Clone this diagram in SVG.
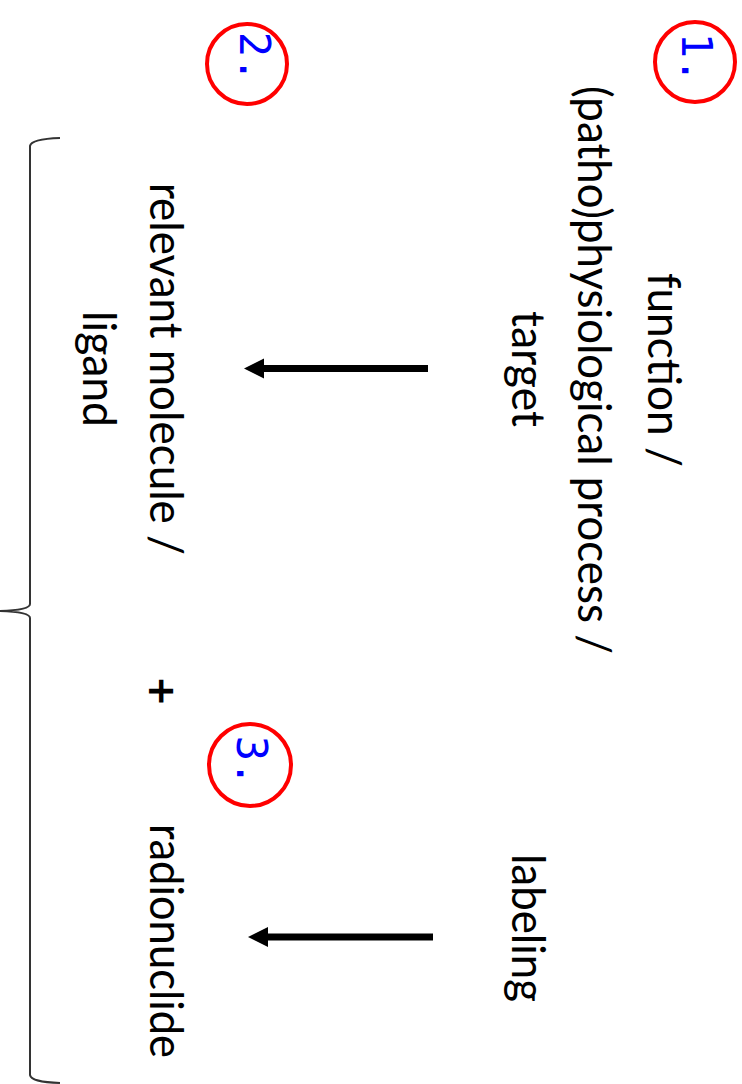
<svg xmlns="http://www.w3.org/2000/svg" width="742" height="1084" viewBox="0 0 742 1084">
  <style>
    .lbl { font-family: Lato, "Open Sans", "Liberation Sans", sans-serif; font-size: 47px; fill: #000; text-anchor: middle; }
    .num { font-family: "DejaVu Sans Mono", "Liberation Mono", monospace; font-size: 42px; fill: #0000ff; text-anchor: middle; }
    .ring { fill: none; stroke: #ff0000; stroke-width: 4; }
    .arrow { fill: none; stroke: #000; stroke-width: 7; marker-end: url(#head); }
    .brace { fill: none; stroke: #333; stroke-width: 2; }
  </style>
  <defs>
    <marker id="head" markerUnits="userSpaceOnUse" markerWidth="22" markerHeight="22" refX="2" refY="11" orient="auto" viewBox="0 0 22 22">
      <polygon points="0,1 20,11 0,21" fill="#000"/>
    </marker>
  </defs>
  <rect width="742" height="1084" fill="#fff"/>

  <!-- step markers -->
  <g id="step1">
    <circle class="ring" cx="695" cy="62" r="40"/>
    <text class="num" transform="translate(682,58) rotate(90)">1.</text>
  </g>
  <g id="step2">
    <circle class="ring" cx="247" cy="64" r="40"/>
    <text class="num" transform="translate(240,57) rotate(90)">2.</text>
  </g>
  <g id="step3">
    <circle class="ring" cx="250" cy="765" r="41"/>
    <text class="num" transform="translate(237,761) rotate(90)">3.</text>
  </g>

  <!-- targets -->
  <g id="target">
    <text class="lbl" transform="translate(648,370) rotate(90)" textLength="194" lengthAdjust="spacingAndGlyphs">function /</text>
    <text class="lbl" transform="translate(578,370) rotate(90)" textLength="568" lengthAdjust="spacingAndGlyphs">(patho)physiological process /</text>
    <text class="lbl" transform="translate(512,369) rotate(90)" textLength="116" lengthAdjust="spacingAndGlyphs">target</text>
  </g>
  <g id="ligand">
    <text class="lbl" transform="translate(150,369) rotate(90)" textLength="372" lengthAdjust="spacingAndGlyphs">relevant molecule /</text>
    <text class="lbl" transform="translate(83,369) rotate(90)" textLength="116" lengthAdjust="spacingAndGlyphs">ligand</text>
  </g>
  <g id="plus">
    <text class="lbl" style="font-weight:bold" transform="translate(145,691) rotate(90)">+</text>
  </g>
  <g id="labeling">
    <text class="lbl" transform="translate(512,928) rotate(90)" textLength="148" lengthAdjust="spacingAndGlyphs">labeling</text>
  </g>
  <g id="radionuclide">
    <text class="lbl" transform="translate(150,941) rotate(90)" textLength="234" lengthAdjust="spacingAndGlyphs">radionuclide</text>
  </g>

  <!-- connectors -->
  <g id="connectors">
    <line class="arrow" x1="428" y1="368.5" x2="262" y2="368.5"/>
    <line class="arrow" x1="433" y1="937" x2="266" y2="937"/>
    <path class="brace" d="M60,138 Q31,139 30,146 L30,604 Q30,610 0,611 Q30,612 30,618 L30,1075 Q31,1082 60,1083"/>
  </g>
</svg>
